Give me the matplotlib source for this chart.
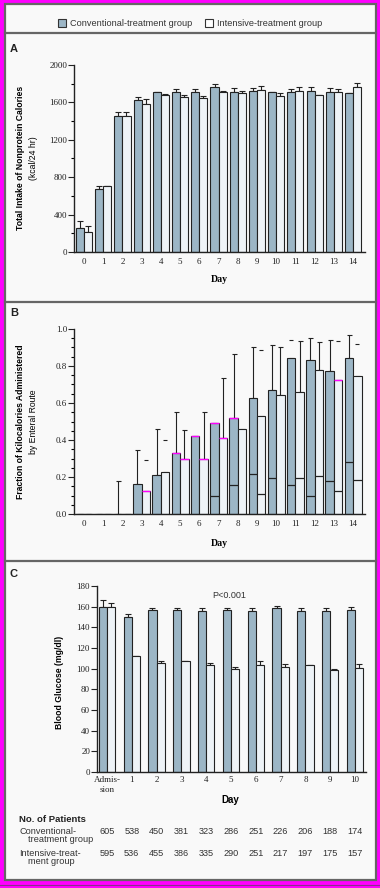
import numpy as np
import matplotlib
matplotlib.use("Agg")
import matplotlib.pyplot as plt
from matplotlib.patches import Rectangle
from matplotlib.lines import Line2D
import matplotlib.transforms as mtransforms

# ---------------- data ----------------
days_ab = list(range(15))
# Panel A: total intake of nonprotein calories (kcal/24 hr)
a_conv = [261, 679, 1450, 1625, 1707, 1707, 1707, 1764, 1707, 1725, 1707, 1707, 1725, 1707, 1700]
a_conv_err = [68, 32, 43, 29, 0, 32, 32, 32, 43, 25, 0, 32, 36, 43, 0]
a_int = [218, 711, 1450, 1586, 1675, 1654, 1643, 1707, 1696, 1729, 1664, 1725, 1675, 1707, 1764]
a_int_err = [61, 0, 43, 46, 14, 28, 21, 10, 22, 42, 32, 36, 0, 36, 40]

# Panel B: fraction of kilocalories administered by enteral route
b_conv = [0, 0, 0, 0.164, 0.212, 0.329, 0.421, 0.491, 0.518, 0.626, 0.669, 0.842, 0.831, 0.772, 0.842]
b_conv_low = [np.nan]*7 + [0.097, 0.156, 0.216, 0.194, 0.156, 0.097, 0.178, 0.281]
b_conv_high = [np.nan, np.nan, 0.18, 0.345, 0.46, 0.554, np.nan, np.nan, 0.865, 0.90, 0.912, np.nan, 0.953, 0.942, 0.968]
b_conv_cap = [np.nan]*11 + [0.939, np.nan, np.nan, np.nan]
b_int = [0, 0, 0, 0.124, 0.227, 0.297, 0.297, 0.41, 0.459, 0.529, 0.642, 0.658, 0.779, 0.723, 0.745]
b_int_low = [np.nan]*9 + [0.108, np.nan, 0.194, 0.205, 0.124, 0.183]
b_int_high = [np.nan]*5 + [0.453, 0.55, 0.734, np.nan, np.nan, 0.90, 0.933, 0.932, np.nan, np.nan]
b_int_cap = [np.nan, np.nan, np.nan, 0.29, 0.40, np.nan, np.nan, np.nan, np.nan, 0.885, np.nan, np.nan, np.nan, 0.933, 0.917]
b_conv_mark = [0, 0, 0, 0, 0, 1, 1, 1, 1, 0, 0, 0, 0, 0, 0]
b_int_mark = [0, 0, 0, 1, 0, 1, 1, 1, 0, 0, 0, 0, 0, 1, 0]

# Panel C: blood glucose (mg/dl)
c_labels = ["Admis-\nsion", "1", "2", "3", "4", "5", "6", "7", "8", "9", "10"]
c_conv = [160, 149.7, 156.8, 156.8, 155.8, 156.8, 155.8, 158.4, 155.8, 155.8, 156.8]
c_conv_err = [6, 3.2, 2.2, 2.2, 2.6, 1.6, 2.6, 1.9, 2.6, 2.6, 2.6]
c_int = [160, 112, 105.2, 107.1, 103.2, 99.4, 103.2, 101.3, 103.2, 98.4, 100.3]
c_int_err = [4, 0, 1.8, 0, 2.0, 1.9, 4.2, 2.9, 0, 1.0, 3.9]
n_conv = [605, 538, 450, 381, 323, 286, 251, 226, 206, 188, 174]
n_int = [595, 536, 455, 386, 335, 290, 251, 217, 197, 175, 157]

# ---------------- style ----------------
W, H = 380, 888
CONV = "#9cb6c6"
INT = "#eef3f7"
BG = "#f9f9f9"
FRAME = "#666666"
SERIF = ["Liberation Serif", "DejaVu Serif"]
SANS = ["Liberation Sans", "DejaVu Sans"]

fig = plt.figure(figsize=(W/100, H/100), dpi=100, facecolor="#ff00ff")


def fx(x):
    return x / W


def fy(y):
    return 1 - y / H


def ax_rect(l, t, r, b):
    return [l / W, 1 - b / H, (r - l) / W, (b - t) / H]


# background + frame
fig.patches.append(Rectangle((fx(4.5), fy(879.5)), (371.5) / W, (875) / H,
                             transform=fig.transFigure, facecolor=BG,
                             edgecolor=FRAME, lw=1.6, zorder=-10))
for ysep in [33, 302, 561]:
    fig.add_artist(Line2D([fx(4.5), fx(376)], [fy(ysep), fy(ysep)],
                          transform=fig.transFigure, color=FRAME, lw=1.6, zorder=-5))
fig.add_artist(Line2D([0, 1], [fy(885), fy(885)], transform=fig.transFigure,
                      color="#883388", lw=0.8, zorder=-5))

# legend
fig.patches.append(Rectangle((fx(57.5), fy(27)), 8 / W, 8 / H, transform=fig.transFigure,
                             facecolor=CONV, edgecolor="#333333", lw=0.8))
fig.text(fx(70), fy(23), "Conventional-treatment group", fontsize=6.6,
         family=SANS, color="#333333", va="center", ha="left")
fig.patches.append(Rectangle((fx(205), fy(27)), 8 / W, 8 / H, transform=fig.transFigure,
                             facecolor="white", edgecolor="#333333", lw=0.8))
fig.text(fx(217), fy(23), "Intensive-treatment group", fontsize=6.6,
         family=SANS, color="#333333", va="center", ha="left")

# panel letters
for lab, y in [("A", 49), ("B", 313), ("C", 574)]:
    fig.text(fx(10), fy(y), lab, fontsize=8, fontweight="bold", family=SANS,
             va="center", ha="left", color="#222222")


def style_axes(ax):
    ax.set_facecolor("none")
    for s in ["top", "right"]:
        ax.spines[s].set_visible(False)
    for s in ["left", "bottom"]:
        ax.spines[s].set_linewidth(1.0)
        ax.spines[s].set_color("#222222")
    ax.tick_params(axis="x", length=0, pad=4, labelsize=6.5, colors="#222222")
    ax.tick_params(axis="y", which="major", length=4, width=0.8, pad=1,
                   labelsize=6.5, colors="#222222")
    ax.tick_params(axis="y", which="minor", length=2.5, width=0.8)
    for t in ax.get_xticklabels() + ax.get_yticklabels():
        t.set_fontfamily(SERIF)


# ---------------- Panel A ----------------
axA = fig.add_axes(ax_rect(74, 65, 365, 252))
bw = 0.42
x = np.array(days_ab)
axA.bar(x - bw/2, a_conv, width=bw, color=CONV, edgecolor="#222222", lw=0.8, zorder=2)
axA.bar(x + bw/2, a_int, width=bw, color=INT, edgecolor="#222222", lw=0.8, zorder=2)
axA.errorbar(x - bw/2, a_conv, yerr=[np.zeros(15), a_conv_err], fmt="none",
             ecolor="#222222", elinewidth=0.8, capsize=2.2, capthick=0.8, zorder=1)
axA.errorbar(x + bw/2, a_int, yerr=[np.zeros(15), a_int_err], fmt="none",
             ecolor="#222222", elinewidth=0.8, capsize=2.2, capthick=0.8, zorder=1)
axA.set_xlim(-0.52, 14.62)
axA.set_ylim(0, 2000)
axA.set_yticks([0, 400, 800, 1200, 1600, 2000])
axA.set_yticks(np.arange(0, 2001, 200), minor=True)
axA.set_xticks(days_ab)
style_axes(axA)
fig.text(fx(219), fy(280), "Day", fontsize=7, fontweight="bold", family=SERIF,
         ha="center", va="center")
fig.text(fx(21), fy(158), "Total Intake of Nonprotein Calories", fontsize=6.2,
         fontweight="bold", family=SANS, rotation=90, ha="center", va="center")
fig.text(fx(33), fy(158), "(kcal/24 hr)", fontsize=6.2, family=SANS,
         rotation=90, ha="center", va="center")

# ---------------- Panel B ----------------
axB = fig.add_axes(ax_rect(74, 329, 365, 514))
bwb = 0.44
axB.bar(x - bwb/2, b_conv, width=bwb, color=CONV, edgecolor="#222222", lw=0.8, zorder=2)
axB.bar(x + bwb/2, b_int, width=bwb, color=INT, edgecolor="#222222", lw=0.8, zorder=2)
axB.hlines(b_conv_low, x - bwb, x, color="#222222", lw=0.9, zorder=3)
axB.hlines(b_int_low, x, x + bwb, color="#222222", lw=0.9, zorder=3)
conv_hi = np.array(b_conv_high)
int_hi = np.array(b_int_high)
axB.errorbar(x - bwb/2, b_conv, yerr=[np.zeros(15), conv_hi - np.array(b_conv)],
             fmt="none", ecolor="#222222", elinewidth=0.8, capsize=1.8, capthick=0.8, zorder=1)
axB.errorbar(x + bwb/2, b_int, yerr=[np.zeros(15), int_hi - np.array(b_int)],
             fmt="none", ecolor="#222222", elinewidth=0.8, capsize=1.8, capthick=0.8, zorder=1)
axB.hlines(b_conv_cap, x - bwb/2 - 0.1, x - bwb/2 + 0.1, color="#222222", lw=0.8)
axB.hlines(b_int_cap, x + bwb/2 - 0.1, x + bwb/2 + 0.1, color="#222222", lw=0.8)
for i in range(15):
    if b_conv_mark[i]:
        axB.hlines(b_conv[i], i - bwb, i, color="#ff00ff", lw=1.0, zorder=4)
    if b_int_mark[i]:
        axB.hlines(b_int[i], i, i + bwb, color="#ff00ff", lw=1.0, zorder=4)
axB.set_xlim(-0.52, 14.62)
axB.set_ylim(0, 1.0)
axB.set_yticks(np.round(np.arange(0, 1.01, 0.2), 1))
axB.set_yticks(np.arange(0, 1.001, 0.05), minor=True)
axB.set_yticklabels(["0.0", "0.2", "0.4", "0.6", "0.8", "1.0"])
axB.set_xticks(days_ab)
style_axes(axB)
fig.text(fx(219), fy(543), "Day", fontsize=7, fontweight="bold", family=SERIF,
         ha="center", va="center")
fig.text(fx(21), fy(422), "Fraction of Kilocalories Administered", fontsize=6.2,
         fontweight="bold", family=SANS, rotation=90, ha="center", va="center")
fig.text(fx(33), fy(422), "by Enteral Route", fontsize=6.2, family=SANS,
         rotation=90, ha="center", va="center")

# ---------------- Panel C ----------------
axC = fig.add_axes(ax_rect(97, 586, 366, 772))
xc = np.arange(len(c_labels))
bwc = 0.33
axC.bar(xc - bwc/2, c_conv, width=bwc, color=CONV, edgecolor="#222222", lw=0.8, zorder=2)
axC.bar(xc + bwc/2, c_int, width=bwc, color=INT, edgecolor="#222222", lw=0.8, zorder=2)
axC.errorbar(xc - bwc/2, c_conv, yerr=[np.zeros(len(xc)), c_conv_err], fmt="none",
             ecolor="#222222", elinewidth=0.8, capsize=2.2, capthick=0.8, zorder=1)
axC.errorbar(xc + bwc/2, c_int, yerr=[np.zeros(len(xc)), c_int_err], fmt="none",
             ecolor="#222222", elinewidth=0.8, capsize=2.2, capthick=0.8, zorder=1)
axC.set_xlim(-0.40, 10.44)
axC.set_ylim(0, 180)
axC.set_yticks(np.arange(0, 181, 20))
axC.set_xticks(xc)
axC.set_xticklabels(c_labels, linespacing=1.3)
style_axes(axC)
axC.tick_params(axis="x", pad=3)
axC.text(0.49, 0.95, "P<0.001", transform=axC.transAxes, fontsize=6.5,
         family=SANS, ha="center", va="center", color="#333333")
fig.text(fx(230), fy(800), "Day", fontsize=7, fontweight="bold", family=SANS,
         ha="center", va="center")
fig.text(fx(60), fy(682), "Blood Glucose (mg/dl)", fontsize=6.2,
         fontweight="bold", family=SANS, rotation=90, ha="center", va="center")

# patient numbers table
trans = mtransforms.blended_transform_factory(axC.transData, fig.transFigure)
fig.text(fx(19), fy(819), "No. of Patients", fontsize=6.8, fontweight="bold",
         family=SANS, ha="left", va="center", color="#222222")
fig.text(fx(19), fy(831), "Conventional-", fontsize=6.6, family=SANS,
         ha="left", va="center", color="#333333")
fig.text(fx(28), fy(839), "treatment group", fontsize=6.6, family=SANS,
         ha="left", va="center", color="#333333")
fig.text(fx(19), fy(853), "Intensive-treat-", fontsize=6.6, family=SANS,
         ha="left", va="center", color="#333333")
fig.text(fx(28), fy(861), "ment group", fontsize=6.6, family=SANS,
         ha="left", va="center", color="#333333")
for i in range(len(xc)):
    fig.text(xc[i], fy(831), str(n_conv[i]), transform=trans, fontsize=6.6,
             family=SANS, ha="center", va="center", color="#333333")
    fig.text(xc[i], fy(853), str(n_int[i]), transform=trans, fontsize=6.6,
             family=SANS, ha="center", va="center", color="#333333")

fig.savefig("out.png", dpi=100, facecolor=fig.get_facecolor())
